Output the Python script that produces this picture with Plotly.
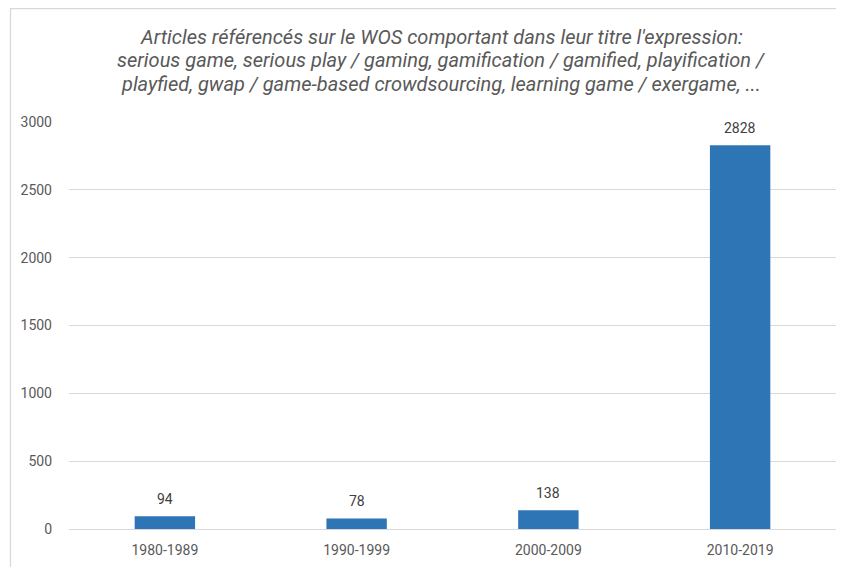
import plotly.graph_objects as go

categories = ["1980-1989", "1990-1999", "2000-2009", "2010-2019"]
values = [94, 78, 138, 2828]
y_ticks = [0, 500, 1000, 1500, 2000, 2500, 3000]
title_lines = [
    "Articles référencés sur le WOS comportant dans leur titre l'expression:",
    "serious game, serious play / gaming, gamification / gamified, playification /",
    "playfied, gwap / game-based crowdsourcing, learning game / exergame, ...",
]

# page body has an 8px margin: work in reference pixels, shift by OFF
OFF = 8
W, H = 844 - OFF, 567 - OFF
plot_l, plot_r, plot_t, plot_b = 69, 836, 122, 529  # reference pixels
ml = plot_l - OFF
mr = W - (plot_r - OFF)
mt = plot_t - OFF
mb = H - (plot_b - OFF)
pw, ph = W - ml - mr, H - mt - mb

def px_x(p):
    return (p - OFF - ml) / pw

def px_y(p):
    return (H - mb - (p - OFF)) / ph

FONT = "Roboto, Liberation Sans, sans-serif"
GRAY = "#595959"

fig = go.Figure()
fig.add_trace(go.Bar(
    x=categories, y=values,
    marker=dict(color="#2E75B6", line=dict(width=0)),
    width=0.315,
    hoverinfo="skip",
))

for c, v in zip(categories, values):
    fig.add_annotation(x=c, y=v, xref="x", yref="y", text=str(v), showarrow=False,
                       yanchor="bottom", yshift=7,
                       font=dict(family=FONT, size=14, color="#404040"))

for line, yc in zip(title_lines, [37, 60, 84]):
    fig.add_annotation(xref="paper", yref="paper", x=px_x(441), y=px_y(yc),
                       text=f"<i>{line}</i>",
                       showarrow=False, xanchor="center", yanchor="middle",
                       font=dict(family=FONT, size=20, color=GRAY))

fig.add_shape(type="line", xref="paper", yref="paper",
              x0=px_x(10), x1=px_x(850), y0=px_y(8.5), y1=px_y(8.5),
              line=dict(color="#D9D9D9", width=1.3))
fig.add_shape(type="line", xref="paper", yref="paper",
              x0=px_x(10.5), x1=px_x(10.5), y0=px_y(8), y1=px_y(600),
              line=dict(color="#D9D9D9", width=1.3))

fig.update_layout(
    width=W, height=H,
    margin=dict(l=ml, r=mr, t=mt, b=mb),
    paper_bgcolor="white", plot_bgcolor="white",
    showlegend=False,
    font=dict(family=FONT, size=14, color=GRAY),
    xaxis=dict(showgrid=False, showline=True, linecolor="#D9D9D9", linewidth=1.3,
               ticks="", ticklabelstandoff=8, tickfont=dict(size=14, color=GRAY),
               fixedrange=True),
    yaxis=dict(range=[0, 3000], tickvals=y_ticks, showgrid=True, gridcolor="#D9D9D9",
               gridwidth=1, zeroline=False, showline=False, ticks="",
               ticklabelstandoff=16, tickfont=dict(size=14, color=GRAY), fixedrange=True),
)

fig.write_html("out.html")
